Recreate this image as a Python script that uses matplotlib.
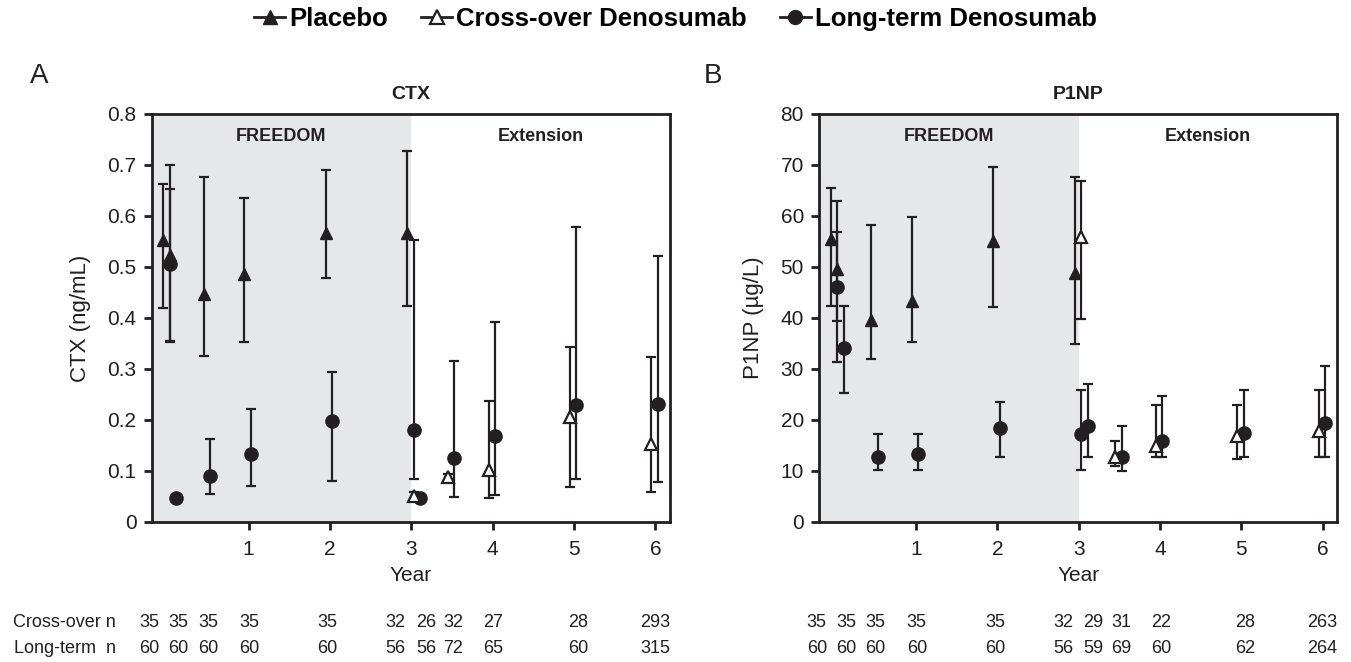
import numpy as np
import matplotlib
matplotlib.use("Agg")
import matplotlib.pyplot as plt
from matplotlib.lines import Line2D
from matplotlib.ticker import FuncFormatter
import matplotlib.transforms as mtransforms

plt.rcParams['font.family'] = ['Liberation Sans', 'DejaVu Sans']

# -------------------------
# Data
# -------------------------
# visit times in years: baseline, 1 mo, 6 mo, 1, 2, 3, ext 1 mo, ext 6 mo, 4, 5, 6
time_pts = [0, 1/12, 0.5, 1, 2, 3, 3 + 1/12, 3.5, 4, 5, 6]
freedom_idx = [0, 1, 2, 3, 4, 5]          # placebo visits
ext_idx = [6, 7, 8, 9, 10]                # cross-over denosumab visits

# CTX (ng/mL): median with interquartile range
ctx_placebo = [0.553, 0.523, 0.448, 0.486, 0.566, 0.566]
ctx_placebo_lo = [0.419, 0.355, 0.325, 0.352, 0.478, 0.424]
ctx_placebo_hi = [0.662, 0.652, 0.676, 0.636, 0.690, 0.727]

ctx_cross = [0.050, 0.089, 0.102, 0.206, 0.152]
ctx_cross_lo = [0.044, 0.083, 0.048, 0.069, 0.058]
ctx_cross_hi = [0.058, 0.095, 0.238, 0.344, 0.323]

ctx_long = [0.505, 0.047, 0.091, 0.133, 0.198, 0.180, 0.047, 0.126, 0.169, 0.230, 0.232]
ctx_long_lo = [0.352, 0.045, 0.055, 0.071, 0.081, 0.085, 0.045, 0.049, 0.052, 0.084, 0.079]
ctx_long_hi = [0.700, 0.049, 0.163, 0.222, 0.295, 0.553, 0.049, 0.316, 0.392, 0.578, 0.522]

# P1NP (ug/L)
p1np_placebo = [55.5, 49.7, 39.6, 43.3, 55.0, 48.8]
p1np_placebo_lo = [42.4, 31.4, 31.9, 35.2, 42.2, 34.9]
p1np_placebo_hi = [65.4, 63.0, 58.2, 59.9, 69.7, 67.6]

p1np_cross = [55.9, 12.8, 14.9, 16.9, 17.8]
p1np_cross_lo = [39.9, 11.0, 12.8, 12.4, 12.8]
p1np_cross_hi = [66.9, 15.9, 22.9, 22.9, 25.9]

p1np_long = [46.1, 34.2, 12.8, 13.3, 18.5, 17.2, 18.9, 12.8, 15.9, 17.4, 19.4]
p1np_long_lo = [39.4, 25.2, 10.2, 10.2, 12.8, 10.2, 12.8, 10.0, 12.8, 12.8, 12.8]
p1np_long_hi = [56.8, 42.4, 17.3, 17.3, 23.6, 25.9, 27.0, 18.9, 24.8, 25.9, 30.5]

# number of subjects per visit
ctx_n_cross = [35, 35, 35, 35, 35, 32, 26, 32, 27, 28, 293]
ctx_n_long = [60, 60, 60, 60, 60, 56, 56, 72, 65, 60, 315]
p1np_n_cross = [35, 35, 35, 35, 35, 32, 29, 31, 22, 28, 263]
p1np_n_long = [60, 60, 60, 60, 60, 56, 59, 69, 60, 62, 264]

ctx_yticks = [0, 0.1, 0.2, 0.3, 0.4, 0.5, 0.6, 0.7, 0.8]
p1np_yticks = [0, 10, 20, 30, 40, 50, 60, 70, 80]
year_ticks = [1, 2, 3, 4, 5, 6]

# -------------------------
# Style
# -------------------------
INK = '#231f20'
SHADE = '#e6e7e8'
XLIM = (-0.19, 6.18)
OFF_PBO = -0.05
OFF_LONG = 0.03
# x-positions (years) of the n labels under each panel
n_label_x = [-0.22, 0.14, 0.50, 1.01, 1.97, 2.81, 3.18, 3.52, 4.01, 5.05, 6.0]


def errs(vals, lo, hi):
    v = np.array(vals)
    return np.vstack([v - np.array(lo), np.array(hi) - v])


def draw_panel(ax, title, ylabel, yticks, pbo, pbo_lo, pbo_hi,
               cro, cro_lo, cro_hi, lng, lng_lo, lng_hi):
    t = np.array(time_pts)
    ax.axvspan(XLIM[0], 3.0, color=SHADE, zorder=0, lw=0)

    eb = dict(linestyle='none', ecolor=INK, elinewidth=1.6, capsize=3.5,
              capthick=1.6, zorder=3)
    ax.errorbar(t + OFF_LONG, lng, yerr=errs(lng, lng_lo, lng_hi), fmt='o',
                color=INK, markersize=9.5, **eb)
    ax.errorbar(t[freedom_idx] + OFF_PBO, pbo, yerr=errs(pbo, pbo_lo, pbo_hi),
                fmt='^', color=INK, markersize=9, **eb)
    ax.errorbar(t[ext_idx] + OFF_PBO, cro, yerr=errs(cro, cro_lo, cro_hi),
                fmt='^', color=INK, markerfacecolor='white',
                markeredgecolor=INK, markeredgewidth=1.6, markersize=8.5, **eb)

    ax.set_xlim(*XLIM)
    ax.set_ylim(yticks[0], yticks[-1])
    ax.set_xticks(year_ticks)
    ax.set_yticks(yticks)
    ax.yaxis.set_major_formatter(FuncFormatter(lambda v, p: f'{v:g}'))
    for s in ax.spines.values():
        s.set_linewidth(2.0)
        s.set_color(INK)
    ax.tick_params(axis='both', direction='out', length=6, width=2,
                   colors=INK, labelsize=15, labelcolor=INK)
    ax.tick_params(axis='x', pad=7)
    ax.tick_params(axis='y', pad=5)
    ax.set_title(title, fontsize=14, fontweight='bold', color=INK, pad=11)
    ax.set_ylabel(ylabel, fontsize=16, color=INK, labelpad=12)
    ax.set_xlabel('Year', fontsize=15, color=INK, labelpad=5)

    ax.text((XLIM[0] + 3.0) / 2, 0.945, 'FREEDOM', transform=ax.get_xaxis_transform(),
            ha='center', va='center', fontsize=13, fontweight='bold', color=INK)
    ax.text((3.0 + XLIM[1]) / 2, 0.945, 'Extension', transform=ax.get_xaxis_transform(),
            ha='center', va='center', fontsize=13, fontweight='bold', color=INK)


def n_rows(fig, ax, n_cross, n_long):
    trans = mtransforms.blended_transform_factory(ax.transData, fig.transFigure)
    for x, a, b in zip(n_label_x, n_cross, n_long):
        fig.text(x, 0.0604, str(a), transform=trans, ha='center', va='center',
                 fontsize=13, color=INK)
        fig.text(x, 0.0211, str(b), transform=trans, ha='center', va='center',
                 fontsize=13, color=INK)


fig = plt.figure(figsize=(13.51, 6.62), dpi=100)
ax_a = fig.add_axes([0.1123, 0.2115, 0.3836, 0.6163])
ax_b = fig.add_axes([0.6064, 0.2115, 0.3834, 0.6163])

draw_panel(ax_a, 'CTX', 'CTX (ng/mL)', ctx_yticks,
           ctx_placebo, ctx_placebo_lo, ctx_placebo_hi,
           ctx_cross, ctx_cross_lo, ctx_cross_hi,
           ctx_long, ctx_long_lo, ctx_long_hi)
draw_panel(ax_b, 'P1NP', 'P1NP (\u00b5g/L)', p1np_yticks,
           p1np_placebo, p1np_placebo_lo, p1np_placebo_hi,
           p1np_cross, p1np_cross_lo, p1np_cross_hi,
           p1np_long, p1np_long_lo, p1np_long_hi)

fig.text(0.022, 0.885, 'A', fontsize=20, color=INK, va='center')
fig.text(0.521, 0.885, 'B', fontsize=20, color=INK, va='center')

# n rows under the panels
fig.text(0.086, 0.0604, 'Cross-over n', ha='right', va='center', fontsize=13, color=INK)
fig.text(0.086, 0.0211, 'Long-term  n', ha='right', va='center', fontsize=13, color=INK)
n_rows(fig, ax_a, ctx_n_cross, ctx_n_long)
n_rows(fig, ax_b, p1np_n_cross, p1np_n_long)

# legend
handles = [
    Line2D([], [], color=INK, lw=2, marker='^', markersize=10),
    Line2D([], [], color=INK, lw=2, marker='^', markersize=10,
           markerfacecolor='white', markeredgewidth=1.6),
    Line2D([], [], color=INK, lw=2, marker='o', markersize=10),
]
labels = ['Placebo', 'Cross-over Denosumab', 'Long-term Denosumab']
fig.legend(handles, labels, loc='center', bbox_to_anchor=(0.5, 0.972), ncol=3,
           frameon=False, handlelength=1.2, handletextpad=0.15, columnspacing=1.3,
           prop={'weight': 'bold', 'size': 18.5})

fig.savefig('out.png', dpi=100)
